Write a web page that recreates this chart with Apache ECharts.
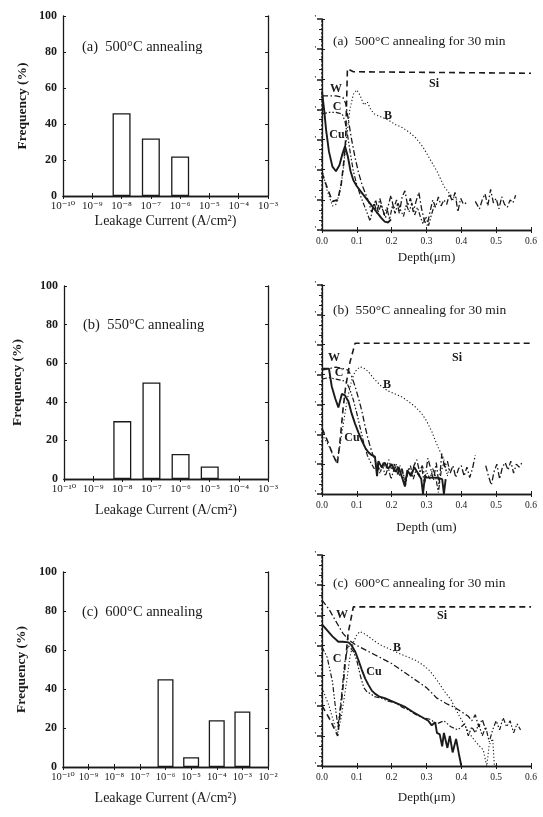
<!DOCTYPE html>
<html><head><meta charset="utf-8">
<script src="https://cdn.jsdelivr.net/npm/echarts@6/dist/echarts.min.js"></script>
<style>html,body{margin:0;padding:0;background:#fff}#c{width:543px;height:817px}</style>
</head><body><div id="c"></div>
<script>
// ---------- Left panels: leakage current histograms ----------
const expA = [-8, -7, -6];
const freqA = [46, 32, 22];
const expB = [-8, -7, -6, -5];
const freqB = [30, 50, 13, 6.5];
const expC = [-6, -5, -4, -3];
const freqC = [45, 5, 24, 28.5];
const leftRanges = [[-10, -3], [-10, -3], [-10, -2]];
const leftTitles = ['(a)  500°C annealing', '(b)  550°C annealing', '(c)  600°C annealing'];
const freqTicks = [0, 20, 40, 60, 80, 100];

// ---------- Right panels: depth profiles [depth(um), intensity] ----------
const depthTicks = [0, 0.1, 0.2, 0.3, 0.4, 0.5, 0.6];
const rightTitles = ['(a)  500°C annealing for 30 min', '(b)  550°C annealing for 30 min', '(c)  600°C annealing for 30 min'];
const depthNames = ['Depth(μm)', 'Depth (um)', 'Depth(μm)'];

const siA = [[0,1.9],[0.015,1.4],[0.03,0.95],[0.045,1.0],[0.055,1.5],[0.063,2.3],[0.068,3.0],[0.073,5.35],[0.09,5.25],[0.6,5.2]];
const wA = [[0,4.45],[0.02,4.45],[0.04,4.45],[0.06,4.4],[0.068,4.2],[0.075,3.7],[0.085,3.0],[0.095,2.4],[0.105,1.9],[0.115,1.5],[0.125,1.2],[0.135,0.9],[0.142,0.6],[0.15,0.9],[0.158,0.55],[0.166,1.05],[0.174,0.7],[0.182,0.4],[0.19,0.8],[0.198,1.15],[0.206,0.7],[0.214,1.0],[0.222,0.55],[0.23,1.1],[0.238,1.3],[0.246,0.8],[0.254,1.05],[0.262,0.6],[0.27,0.95],[0.278,1.25],[0.286,0.7],[0.294,0.3],[0.302,0.15],[0.31,0.6],[0.318,1.0],[0.326,0.75],[0.334,1.1],[0.342,0.8],[0.35,1.0],[0.358,0.85],[0.366,1.2],[0.374,0.95],[0.382,1.25],[0.39,0.6],[0.398,1.05],[0.406,0.85],[0.414,0.9],[0.425,'-'],[0.44,0.95],[0.452,0.7],[0.46,1.0],[0.468,1.2],[0.476,0.8],[0.484,1.35],[0.492,0.9],[0.5,1.05],[0.508,0.7],[0.516,1.1],[0.524,0.85],[0.532,0.75],[0.54,1.0],[0.548,0.9],[0.556,1.15]];
const cA = [[0,3.85],[0.02,3.9],[0.04,3.9],[0.058,3.85],[0.066,3.6],[0.074,3.1],[0.082,2.5],[0.09,1.95],[0.1,1.5],[0.11,1.15],[0.12,0.85],[0.13,0.55],[0.138,0.3],[0.146,0.7],[0.154,1.0],[0.162,0.6],[0.17,0.85],[0.178,0.5],[0.186,0.75],[0.194,0.35],[0.202,0.8],[0.21,0.55],[0.218,0.9],[0.226,0.65],[0.234,0.45],[0.242,0.85],[0.25,0.6],[0.258,0.9],[0.266,0.5],[0.274,0.75],[0.282,0.45],[0.29,0.2],[0.298,0.45],[0.306,0.15],[0.314,0.5],[0.322,0.8]];
const cuA = [[0,4.6],[0.006,4.0],[0.012,3.3],[0.02,2.6],[0.03,2.1],[0.04,1.95],[0.05,2.15],[0.058,2.5],[0.066,2.78],[0.074,2.45],[0.082,1.95],[0.09,1.65],[0.1,1.45],[0.11,1.3],[0.12,1.15],[0.13,1.0],[0.14,0.85],[0.15,0.7],[0.16,0.55],[0.17,0.4],[0.18,0.28],[0.19,0.25],[0.198,0.35]];
const bA = [[0,2.0],[0.015,1.3],[0.03,0.8],[0.04,0.85],[0.05,1.2],[0.06,1.9],[0.07,3.0],[0.08,4.0],[0.09,4.5],[0.1,4.65],[0.11,4.45],[0.12,4.15],[0.13,4.25],[0.14,4.0],[0.15,3.85],[0.17,3.75],[0.19,3.65],[0.21,3.5],[0.23,3.4],[0.25,3.25],[0.27,3.05],[0.29,2.75],[0.31,2.35],[0.33,1.95],[0.35,1.45],[0.37,1.15],[0.39,1.0]];

const siB = [[0,2.2],[0.015,1.8],[0.03,1.35],[0.044,1.0],[0.052,1.8],[0.06,2.8],[0.068,3.6],[0.08,4.4],[0.095,5.05],[0.6,5.05]];
const wB = [[0,4.15],[0.02,4.2],[0.04,4.25],[0.06,4.2],[0.075,4.15],[0.085,3.95],[0.095,3.6],[0.105,3.2],[0.115,2.75],[0.124,2.25],[0.131,1.9],[0.138,1.6],[0.145,1.35],[0.152,1.15],[0.16,0.95],[0.168,0.75],[0.176,1.05],[0.184,0.85],[0.192,1.15],[0.2,0.8],[0.208,1.0],[0.216,0.65],[0.224,0.95],[0.232,0.7],[0.24,0.3],[0.248,0.85],[0.256,0.6],[0.264,0.95],[0.272,1.15],[0.28,0.75],[0.288,0.95],[0.296,0.55],[0.304,1.2],[0.312,0.85],[0.32,0.45],[0.328,1.05],[0.336,0.3],[0.344,1.35],[0.352,0.9],[0.36,1.1],[0.368,0.7],[0.376,0.95],[0.384,0.55],[0.392,0.85],[0.4,0.95],[0.408,0.6],[0.416,0.9],[0.424,0.55],[0.432,0.85],[0.44,1.3],[0.455,'-'],[0.47,0.95],[0.478,0.6],[0.486,0.3],[0.494,0.75],[0.502,1.0],[0.51,0.5],[0.518,0.9],[0.526,1.05],[0.534,0.8],[0.542,1.1],[0.55,0.7],[0.558,1.0],[0.566,0.9],[0.574,1.05]];
const cB = [[0,3.85],[0.02,3.9],[0.04,3.85],[0.06,3.8],[0.07,3.75],[0.08,3.5],[0.09,3.15],[0.1,2.7],[0.11,2.2],[0.12,1.7],[0.13,1.3],[0.14,1.05],[0.15,0.85],[0.158,1.05],[0.166,0.7],[0.174,0.95],[0.182,0.6],[0.19,0.9],[0.198,0.5],[0.206,0.8],[0.214,1.0],[0.222,0.6],[0.23,0.85],[0.238,0.45],[0.246,0.7],[0.254,0.95],[0.262,0.5],[0.27,0.8],[0.278,0.6],[0.286,0.9],[0.294,0.35],[0.302,0.7],[0.31,0.5],[0.318,0.85],[0.326,0.6],[0.334,0.05],[0.342,0.75],[0.35,1.05],[0.358,0.7]];
const cuB = [[0,4.2],[0.02,4.2],[0.028,3.6],[0.038,3.2],[0.047,2.9],[0.057,3.35],[0.066,3.3],[0.076,3.1],[0.085,2.7],[0.095,2.35],[0.105,2.05],[0.114,1.8],[0.124,1.55],[0.133,1.4],[0.143,1.3],[0.152,1.25],[0.158,0.6],[0.162,1.1],[0.171,0.9],[0.18,1.05],[0.19,0.85],[0.2,1.0],[0.21,0.75],[0.22,0.9],[0.23,0.55],[0.238,0.25],[0.245,0.8],[0.255,0.6],[0.265,0.9],[0.275,0.7],[0.285,0.5],[0.29,0.0],[0.295,0.55],[0.31,0.55],[0.33,0.55],[0.345,0.5],[0.35,0.0],[0.355,0.5]];
const bB = [[0,2.0],[0.02,1.6],[0.035,1.2],[0.042,1.05],[0.05,1.5],[0.058,2.1],[0.066,2.7],[0.075,3.3],[0.085,3.8],[0.095,4.1],[0.109,4.26],[0.12,4.22],[0.133,4.1],[0.15,3.85],[0.171,3.6],[0.19,3.45],[0.21,3.35],[0.23,3.25],[0.248,3.1],[0.265,2.95],[0.286,2.7],[0.3,2.45],[0.315,2.1],[0.325,1.8],[0.334,1.55],[0.342,1.35],[0.349,1.2],[0.355,0.9],[0.36,0.6],[0.365,0.9]];

const siC = [[0,2.0],[0.02,1.6],[0.035,1.25],[0.045,1.0],[0.06,2.6],[0.075,4.4],[0.09,5.28],[0.6,5.28]];
const wC = [[0,5.5],[0.02,5.2],[0.04,4.8],[0.06,4.4],[0.08,4.15],[0.1,4.0],[0.15,3.7],[0.2,3.4],[0.25,3.0],[0.3,2.6],[0.33,2.25],[0.36,2.05],[0.38,1.95],[0.4,1.8],[0.42,1.65],[0.43,1.5],[0.44,1.7],[0.45,1.3],[0.46,1.55],[0.47,1.2]];
const cC = [[0,3.95],[0.015,3.6],[0.03,2.8],[0.04,1.8],[0.046,1.3],[0.055,2.2],[0.065,3.4],[0.075,4.0],[0.09,3.8],[0.1,3.5],[0.11,3.0],[0.12,2.6],[0.13,2.45],[0.14,2.4],[0.15,2.3],[0.17,2.25],[0.19,2.15],[0.21,2.1],[0.23,1.95],[0.25,1.85],[0.27,1.7],[0.29,1.6],[0.31,1.55],[0.33,1.4],[0.35,1.5],[0.37,1.3],[0.39,1.2],[0.41,1.4],[0.42,1.0],[0.43,1.3],[0.44,1.1],[0.45,1.4],[0.46,1.0],[0.47,1.3],[0.48,0.8],[0.49,1.2],[0.5,1.5],[0.51,1.2],[0.52,1.6],[0.53,1.3],[0.54,1.5],[0.55,1.1],[0.56,1.4],[0.57,1.2]];
const cuC = [[0,4.7],[0.015,4.5],[0.03,4.3],[0.047,4.12],[0.06,4.12],[0.076,4.1],[0.085,4.0],[0.095,3.8],[0.105,3.5],[0.114,3.2],[0.124,2.9],[0.133,2.7],[0.143,2.5],[0.152,2.4],[0.165,2.3],[0.18,2.25],[0.2,2.15],[0.22,2.05],[0.24,1.95],[0.26,1.8],[0.275,1.7],[0.29,1.6],[0.305,1.5],[0.315,1.35],[0.325,1.45],[0.33,1.1],[0.338,1.05],[0.345,0.65],[0.35,1.1],[0.36,0.6],[0.367,1.0],[0.375,0.45],[0.385,0.9],[0.393,0.4],[0.4,0.0]];
const bC = [[0,2.6],[0.02,2.0],[0.035,1.4],[0.044,1.05],[0.055,1.6],[0.07,2.74],[0.08,3.6],[0.09,4.1],[0.1,4.35],[0.109,4.46],[0.12,4.4],[0.133,4.3],[0.15,4.15],[0.171,4.0],[0.2,3.85],[0.22,3.74],[0.25,3.6],[0.27,3.5],[0.29,3.35],[0.31,3.15],[0.33,2.85],[0.35,2.5],[0.37,2.2],[0.39,1.75],[0.406,1.42],[0.42,1.15],[0.43,0.97],[0.445,0.75],[0.463,0.53],[0.473,0],[0.48,0.7],[0.49,0.9],[0.495,0],[0.5,0]];

const profiles = [
  {Si: siA, W: wA, C: cA, Cu: cuA, B: bA},
  {Si: siB, W: wB, C: cB, Cu: cuB, B: bB},
  {Si: siC, W: wC, C: cC, Cu: cuC, B: bC}
];

// ---------- layout / style ----------
const SERIF = '"Liberation Serif", "DejaVu Serif", serif';
const INK = '#1a1a1a';
const gL = [{left:63,top:16,width:205,height:180},{left:64,top:286,width:204,height:193},{left:63,top:572,width:205,height:195}];
const gR = [{left:322,top:19,width:209,height:211},{left:322,top:285,width:209,height:209},{left:322,top:555,width:209,height:211}];
const lxGap = [18, 24, 24], lyGap = [33, 39, 34], rxGap = [21, 27, 25];
const barW = [18, 18, 16];
const lxFont = [11, 11, 10.5];
const lineStyles = {
  Si: {type:[6,4], width:1.6},
  B: {type:[1.2,2.2], width:1.1},
  W: {type:[6,2.5,1.5,2.5], width:1.3},
  C: {type:[5,2,1.5,2,1.5,2], width:1.2},
  Cu: {type:'solid', width:1.9}
};
const sup = n => String(n).split('').map(c => ({'-':'⁻','0':'⁰','1':'¹','2':'²','3':'³','4':'⁴','5':'⁵','6':'⁶','7':'⁷','8':'⁸','9':'⁹'})[c]).join('');

const grid = [], xAxis = [], yAxis = [], series = [], graphic = [];
const axLine = {show:true, lineStyle:{color:INK, width:1.3}};

function leftPanel(i, exps, freqs) {
  const gi = grid.length;
  grid.push(gL[i]);
  const [mn, mx] = leftRanges[i];
  const xi = xAxis.length, yi = yAxis.length;
  xAxis.push({type:'value', gridIndex:gi, min:mn, max:mx, interval:1, position:'bottom',
    axisLine:axLine, splitLine:{show:false},
    axisTick:{inside:true, length:3, lineStyle:{color:INK}},
    axisLabel:{formatter:v => '10' + sup(Math.round(v)), fontFamily:SERIF, fontSize:lxFont[i], color:INK, margin:5, showMinLabel:true, showMaxLabel:true},
    name:'Leakage Current (A/cm²)', nameLocation:'middle', nameGap:lxGap[i],
    nameTextStyle:{fontFamily:SERIF, fontSize:14, color:INK}});
  xAxis.push({type:'value', gridIndex:gi, min:mn, max:mx, interval:1, position:'top',
    axisLine:axLine, splitLine:{show:false}, axisTick:{inside:true, length:3, lineStyle:{color:INK}}, axisLabel:{show:false}});
  yAxis.push({type:'value', gridIndex:gi, min:0, max:100, interval:20, position:'left',
    axisLine:axLine, splitLine:{show:false},
    axisTick:{inside:true, length:3, lineStyle:{color:INK}},
    axisLabel:{fontFamily:SERIF, fontSize:12, fontWeight:'bold', color:INK, margin:6},
    name:'Frequency (%)', nameLocation:'middle', nameGap:lyGap[i],
    nameTextStyle:{fontFamily:SERIF, fontSize:13.5, fontWeight:'bold', color:INK}});
  yAxis.push({type:'value', gridIndex:gi, min:0, max:100, interval:20, position:'right',
    axisLine:axLine, splitLine:{show:false}, axisTick:{inside:true, length:3, lineStyle:{color:INK}}, axisLabel:{show:false}});
  series.push({type:'bar', xAxisIndex:xi, yAxisIndex:yi, barWidth:barW[i],
    data: exps.map((e, k) => [e, freqs[k]]),
    itemStyle:{color:'#fff', borderColor:INK, borderWidth:1.3}, z:3});
  graphic.push({type:'text', x:gL[i].left + 19, y:gL[i].top + [31, 39, 40][i],
    style:{text:leftTitles[i], font:'14.5px ' + SERIF, fill:INK, align:'left', verticalAlign:'middle'}});
}

function rightPanel(i) {
  const gi = grid.length;
  grid.push(gR[i]);
  const xi = xAxis.length, yi = yAxis.length;
  xAxis.push({type:'value', gridIndex:gi, min:0, max:0.6, interval:0.1, position:'bottom',
    axisLine:axLine, splitLine:{show:false},
    axisTick:{inside:true, length:3, lineStyle:{color:INK}},
    axisLabel:{formatter:v => v.toFixed(1), fontFamily:SERIF, fontSize:9.5, color:INK, margin:6, showMaxLabel:true},
    name:depthNames[i], nameLocation:'middle', nameGap:rxGap[i],
    nameTextStyle:{fontFamily:SERIF, fontSize:13, color:INK}});
  xAxis.push({type:'value', gridIndex:gi, min:0, max:0.6, interval:0.1, position:'top',
    axisLine:axLine, splitLine:{show:false}, axisTick:{inside:true, length:3, lineStyle:{color:INK}}, axisLabel:{show:false}});
  yAxis.push({type:'value', gridIndex:gi, min:0, max:7, interval:1, position:'left',
    axisLine:axLine, splitLine:{show:false},
    axisTick:{inside:true, length:3, lineStyle:{color:INK}},
    axisLabel:{formatter:() => "'", fontFamily:SERIF, fontSize:9, color:INK, margin:6}});
  yAxis.push({type:'value', gridIndex:gi, min:0, max:7, interval:1, position:'right',
    axisLine:{show:true, lineStyle:{color:INK, width:1.5, type:[1.5,2.5]}}, splitLine:{show:false},
    axisTick:{inside:true, length:5, lineStyle:{color:INK, width:1.5}},
    minorTick:{show:true, splitNumber:3, length:3, lineStyle:{color:INK}},
    axisLabel:{show:false}});
  const p = profiles[i];
  ['B', 'Si', 'W', 'C', 'Cu'].forEach(k => {
    series.push({type:'line', name:k, xAxisIndex:xi, yAxisIndex:yi, data:p[k], showSymbol:false, symbol:'none',
      lineStyle:Object.assign({color:INK}, lineStyles[k]), z: k === 'Cu' ? 5 : 3});
  });
  graphic.push({type:'text', x:gR[i].left + 11, y:gR[i].top + [22, 25, 28][i],
    style:{text:rightTitles[i], font:'13.5px ' + SERIF, fill:INK, align:'left', verticalAlign:'middle'}});
}

leftPanel(0, expA, freqA);
leftPanel(1, expB, freqB);
leftPanel(2, expC, freqC);
rightPanel(0); rightPanel(1); rightPanel(2);

// curve name annotations (pixel positions)
const curveLabels = [
  [['W',336,89],['C',337,107],['Cu',337,135],['B',388,116],['Si',434,84]],
  [['W',334,358],['C',339,373],['Cu',352,438],['B',387,385],['Si',457,358]],
  [['W',342,615],['C',337,659],['Cu',374,672],['B',397,648],['Si',442,616]]
];
curveLabels.forEach(arr => arr.forEach(([t, x, y]) => {
  graphic.push({type:'text', x, y, z:10, style:{text:t, font:'bold 12px ' + SERIF, fill:INK, align:'center', verticalAlign:'middle'}});
}));

const chart = echarts.init(document.getElementById('c'), null, {renderer:'canvas'});
chart.setOption({animation:false, backgroundColor:'#fff', grid, xAxis, yAxis, series, graphic});
</script></body></html>
